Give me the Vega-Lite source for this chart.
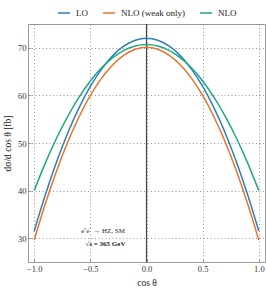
{
  "$schema": "https://vega.github.io/schema/vega-lite/v6.json",
  "width": 237,
  "height": 238,
  "autosize": {"type": "none"},
  "padding": {"left": 28, "top": 24, "right": 1, "bottom": 32},
  "background": "white",
  "config": {
    "font": "Liberation Serif",
    "view": {"stroke": "#9a9a9a", "strokeWidth": 1},
    "axis": {
      "domain": false,
      "labelFont": "Liberation Serif",
      "titleFont": "Liberation Serif",
      "labelFontSize": 8.5,
      "titleFontSize": 9.5,
      "labelColor": "#333",
      "titleColor": "#222",
      "titleFontWeight": "normal",
      "tickColor": "#999",
      "gridColor": "#777",
      "gridDash": [1, 2.5],
      "gridWidth": 0.9,
      "gridOpacity": 0.85
    }
  },
  "datasets": {
    "curves": [
      {"cos": -1.0, "xs": 31.5, "process": "LO"},
      {"cos": -0.9, "xs": 39.2, "process": "LO"},
      {"cos": -0.8, "xs": 46.08, "process": "LO"},
      {"cos": -0.7, "xs": 52.16, "process": "LO"},
      {"cos": -0.6, "xs": 57.42, "process": "LO"},
      {"cos": -0.5, "xs": 61.88, "process": "LO"},
      {"cos": -0.4, "xs": 65.52, "process": "LO"},
      {"cos": -0.3, "xs": 68.36, "process": "LO"},
      {"cos": -0.2, "xs": 70.38, "process": "LO"},
      {"cos": -0.1, "xs": 71.6, "process": "LO"},
      {"cos": 0.0, "xs": 72.0, "process": "LO"},
      {"cos": 0.1, "xs": 71.6, "process": "LO"},
      {"cos": 0.2, "xs": 70.38, "process": "LO"},
      {"cos": 0.3, "xs": 68.36, "process": "LO"},
      {"cos": 0.4, "xs": 65.52, "process": "LO"},
      {"cos": 0.5, "xs": 61.88, "process": "LO"},
      {"cos": 0.6, "xs": 57.42, "process": "LO"},
      {"cos": 0.7, "xs": 52.16, "process": "LO"},
      {"cos": 0.8, "xs": 46.08, "process": "LO"},
      {"cos": 0.9, "xs": 39.2, "process": "LO"},
      {"cos": 1.0, "xs": 31.5, "process": "LO"},
      {"cos": -1.0, "xs": 29.6, "process": "NLO (weak only)"},
      {"cos": -0.9, "xs": 37.3, "process": "NLO (weak only)"},
      {"cos": -0.8, "xs": 44.18, "process": "NLO (weak only)"},
      {"cos": -0.7, "xs": 50.26, "process": "NLO (weak only)"},
      {"cos": -0.6, "xs": 55.52, "process": "NLO (weak only)"},
      {"cos": -0.5, "xs": 59.98, "process": "NLO (weak only)"},
      {"cos": -0.4, "xs": 63.62, "process": "NLO (weak only)"},
      {"cos": -0.3, "xs": 66.46, "process": "NLO (weak only)"},
      {"cos": -0.2, "xs": 68.48, "process": "NLO (weak only)"},
      {"cos": -0.1, "xs": 69.7, "process": "NLO (weak only)"},
      {"cos": 0.0, "xs": 70.1, "process": "NLO (weak only)"},
      {"cos": 0.1, "xs": 69.7, "process": "NLO (weak only)"},
      {"cos": 0.2, "xs": 68.48, "process": "NLO (weak only)"},
      {"cos": 0.3, "xs": 66.46, "process": "NLO (weak only)"},
      {"cos": 0.4, "xs": 63.62, "process": "NLO (weak only)"},
      {"cos": 0.5, "xs": 59.98, "process": "NLO (weak only)"},
      {"cos": 0.6, "xs": 55.52, "process": "NLO (weak only)"},
      {"cos": 0.7, "xs": 50.26, "process": "NLO (weak only)"},
      {"cos": 0.8, "xs": 44.18, "process": "NLO (weak only)"},
      {"cos": 0.9, "xs": 37.3, "process": "NLO (weak only)"},
      {"cos": 1.0, "xs": 29.6, "process": "NLO (weak only)"},
      {"cos": -1.0, "xs": 40.0, "process": "NLO"},
      {"cos": -0.9, "xs": 45.83, "process": "NLO"},
      {"cos": -0.8, "xs": 51.05, "process": "NLO"},
      {"cos": -0.7, "xs": 55.66, "process": "NLO"},
      {"cos": -0.6, "xs": 59.65, "process": "NLO"},
      {"cos": -0.5, "xs": 63.03, "process": "NLO"},
      {"cos": -0.4, "xs": 65.79, "process": "NLO"},
      {"cos": -0.3, "xs": 67.94, "process": "NLO"},
      {"cos": -0.2, "xs": 69.47, "process": "NLO"},
      {"cos": -0.1, "xs": 70.39, "process": "NLO"},
      {"cos": 0.0, "xs": 70.7, "process": "NLO"},
      {"cos": 0.1, "xs": 70.39, "process": "NLO"},
      {"cos": 0.2, "xs": 69.47, "process": "NLO"},
      {"cos": 0.3, "xs": 67.94, "process": "NLO"},
      {"cos": 0.4, "xs": 65.79, "process": "NLO"},
      {"cos": 0.5, "xs": 63.03, "process": "NLO"},
      {"cos": 0.6, "xs": 59.65, "process": "NLO"},
      {"cos": 0.7, "xs": 55.66, "process": "NLO"},
      {"cos": 0.8, "xs": 51.05, "process": "NLO"},
      {"cos": 0.9, "xs": 45.83, "process": "NLO"},
      {"cos": 1.0, "xs": 40.0, "process": "NLO"}
    ],
    "notes": [
      {"line": "e⁺e⁻ → HZ, SM"},
      {"line": "√s = 365 GeV"}
    ]
  },
  "layer": [
    {
      "data": {"values": [{"pos": 0}]},
      "mark": {"type": "rule", "color": "#444", "strokeWidth": 1.2},
      "encoding": {
        "x": {
          "field": "pos",
          "type": "quantitative",
          "scale": {"domain": [-1.055, 1.055], "nice": false, "zero": false},
          "axis": {
            "values": [-1, -0.5, 0, 0.5, 1],
            "format": ".1f",
            "title": "cos θ",
            "grid": true,
            "tickSize": -3,
            "labelPadding": 5,
            "titlePadding": 5
          }
        }
      }
    },
    {
      "data": {"name": "curves"},
      "mark": {"type": "line", "strokeWidth": 1.5, "interpolate": "monotone"},
      "encoding": {
        "x": {"field": "cos", "type": "quantitative"},
        "y": {
          "field": "xs",
          "type": "quantitative",
          "scale": {"domain": [25, 75], "nice": false, "zero": false},
          "axis": {
            "values": [30, 40, 50, 60, 70],
            "title": "dσ/d cos θ [fb]",
            "grid": true,
            "tickSize": -3,
            "labelPadding": 5,
            "titlePadding": 5
          }
        },
        "color": {
          "field": "process",
          "type": "nominal",
          "sort": ["LO", "NLO (weak only)", "NLO"],
          "scale": {
            "domain": ["LO", "NLO (weak only)", "NLO"],
            "range": ["#2e7ebc", "#e8732a", "#20a884"]
          },
          "legend": {
            "title": null,
            "orient": "none",
            "direction": "horizontal",
            "legendX": 29,
            "legendY": -18,
            "symbolType": "stroke",
            "symbolSize": 144,
            "symbolStrokeWidth": 1.5,
            "labelFont": "Liberation Serif",
            "labelFontSize": 9,
            "labelColor": "#222",
            "labelOffset": 5,
            "columnPadding": 12
          }
        }
      }
    },
    {
      "data": {"name": "notes"},
      "transform": [{"filter": "datum.line === 'e⁺e⁻ → HZ, SM'"}],
      "mark": {"type": "text", "fontSize": 7, "font": "Liberation Serif", "color": "#222"},
      "encoding": {
        "x": {"datum": -0.387, "type": "quantitative"},
        "y": {"datum": 31.5, "type": "quantitative"},
        "text": {"field": "line"}
      }
    },
    {
      "data": {"name": "notes"},
      "transform": [{"filter": "datum.line !== 'e⁺e⁻ → HZ, SM'"}],
      "mark": {"type": "text", "fontSize": 7, "font": "Liberation Serif", "fontWeight": "bold", "color": "#222"},
      "encoding": {
        "x": {"datum": -0.365, "type": "quantitative"},
        "y": {"datum": 28.8, "type": "quantitative"},
        "text": {"field": "line"}
      }
    }
  ]
}
